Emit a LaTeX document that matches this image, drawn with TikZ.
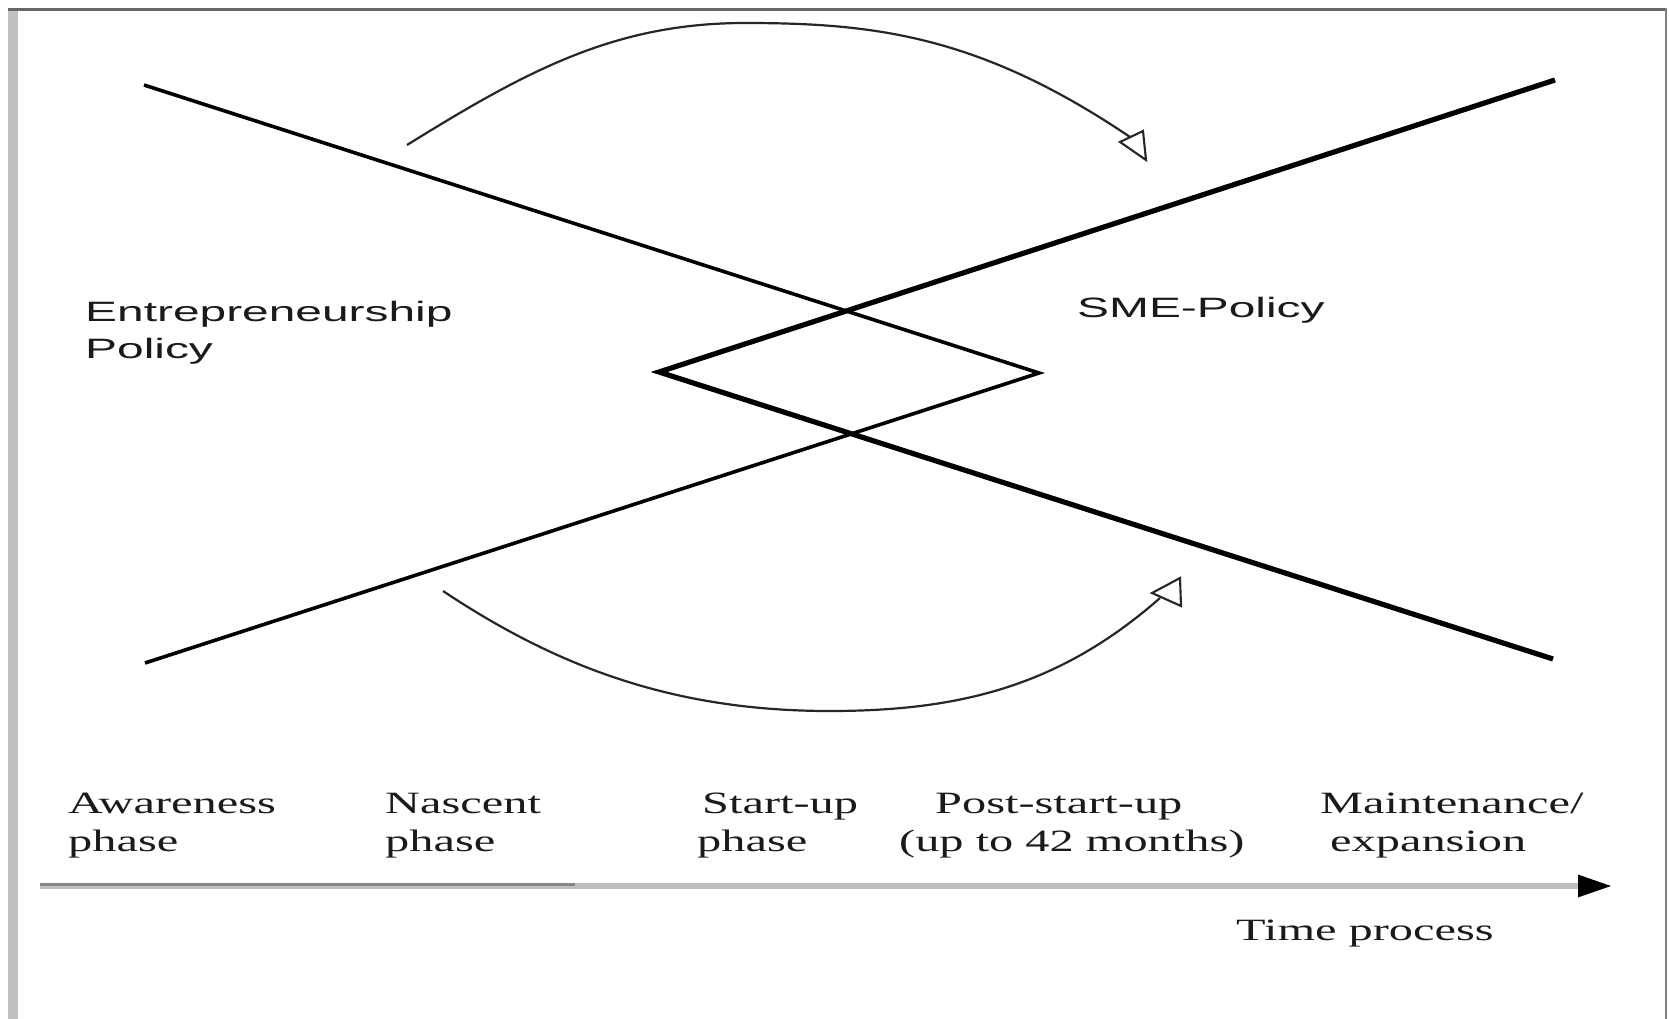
\documentclass[tikz,border=0pt]{standalone}
\usepackage{fontspec}
\usetikzlibrary{arrows.meta}
\newfontfamily\lblserif[FakeStretch=1.56]{Liberation Serif}
\newfontfamily\lblsans[FakeStretch=1.71]{Liberation Sans}
\definecolor{framegray}{HTML}{C0C0C0}
\definecolor{topgray}{HTML}{686868}
\definecolor{sidegray}{HTML}{808080}
\definecolor{axislight}{HTML}{BEBEBE}
\definecolor{axisdark}{HTML}{858585}
\definecolor{inkc}{HTML}{1A1A1A}
\begin{document}
\begin{tikzpicture}[x=1pt,y=-1pt,
  serifl/.style={anchor=base west, inner sep=0pt, text=inkc, font=\lblserif\fontsize{31}{38.7}\selectfont},
  sansl/.style={anchor=base west, inner sep=0pt, text=inkc, font=\lblsans\fontsize{28}{36.6}\selectfont},
  thinpol/.style={line width=3.6pt, line join=miter, draw=black},
  thickpol/.style={line width=5.2pt, line join=miter, draw=black},
  arcline/.style={line width=2.2pt, draw=black!85},
  openhead/.style={line width=2.1pt, line join=miter, draw=black!85},
]
\useasboundingbox (0,0) rectangle (1669,1019);
\fill[white] (0,0) rectangle (1669,1019);
% frame
\fill[framegray] (8,8) rectangle (18,1019);
\draw[line width=3pt, topgray] (8,9.5) -- (1667,9.5);
\draw[line width=2pt, sidegray] (1666,8) -- (1666,1019);

% policy lines
\coordinate (eTop) at (144,85);
\coordinate (eVert) at (1039,373);
\coordinate (eBot) at (145,663);
\coordinate (sTop) at (1555,80);
\coordinate (sVert) at (659,372);
\coordinate (sBot) at (1553,659);
\draw[thinpol] (eTop) -- (eVert) -- (eBot);
\draw[thickpol] (sTop) -- (sVert) -- (sBot);

% upper arc with open head
\coordinate (uaS) at (407,145);
\coordinate (uaP) at (745,23);
\coordinate (uaE) at (1130,137);
\draw[arcline] (uaS) .. controls (527,70.6) and (615,23) .. (uaP)
                    .. controls (875,23) and (980,35.75) .. (uaE);
\draw[openhead] (1120,142) -- (1143,131) -- (1146,160) -- cycle;

% lower arc with open head
\coordinate (laS) at (443,591);
\coordinate (laP) at (830,711);
\coordinate (laE) at (1160,598);
\draw[arcline] (laS) .. controls (563,671) and (680,711) .. (laP)
                    .. controls (960,711) and (1060,686) .. (laE);
\draw[openhead] (1152,593) -- (1180,578) -- (1181,606) -- cycle;

% labels
\node[sansl] (ep) at (85,321.7) {\begin{tabular}[t]{@{}l@{}}Entrepreneurship\\Policy\end{tabular}};
\node[sansl] (sme) at (1077,317.5) {SME-Policy};

\node[serifl] (aw) at (68,813) {\begin{tabular}[t]{@{}l@{}}Awareness\\phase\end{tabular}};
\node[serifl] (na) at (385,813) {\begin{tabular}[t]{@{}l@{}}Nascent\\phase\end{tabular}};
\node[serifl] (su) at (697,813) {\begin{tabular}[t]{@{}l@{}}\hspace*{5pt}Start-up\\phase\end{tabular}};
\node[serifl] (ps) at (899,813) {\begin{tabular}[t]{@{}l@{}}\hspace*{36pt}Post-start-up\\(up to 42 months)\end{tabular}};
\node[serifl] (me) at (1320,813) {\begin{tabular}[t]{@{}l@{}}Maintenance/\\\hspace*{10pt}expansion\end{tabular}};
\node[serifl] (tp) at (1236,940) {Time process};

% time axis
\coordinate (axS) at (40,886);
\coordinate (axE) at (1612,886);
\coordinate (axM) at (575,884.5);
\draw[line width=6pt, axislight, -{Triangle[length=34pt,width=21pt,color=black]}] (axS) -- (axE);
\draw[line width=3pt, axisdark] (40,884.5) -- (axM);
\end{tikzpicture}
\end{document}
